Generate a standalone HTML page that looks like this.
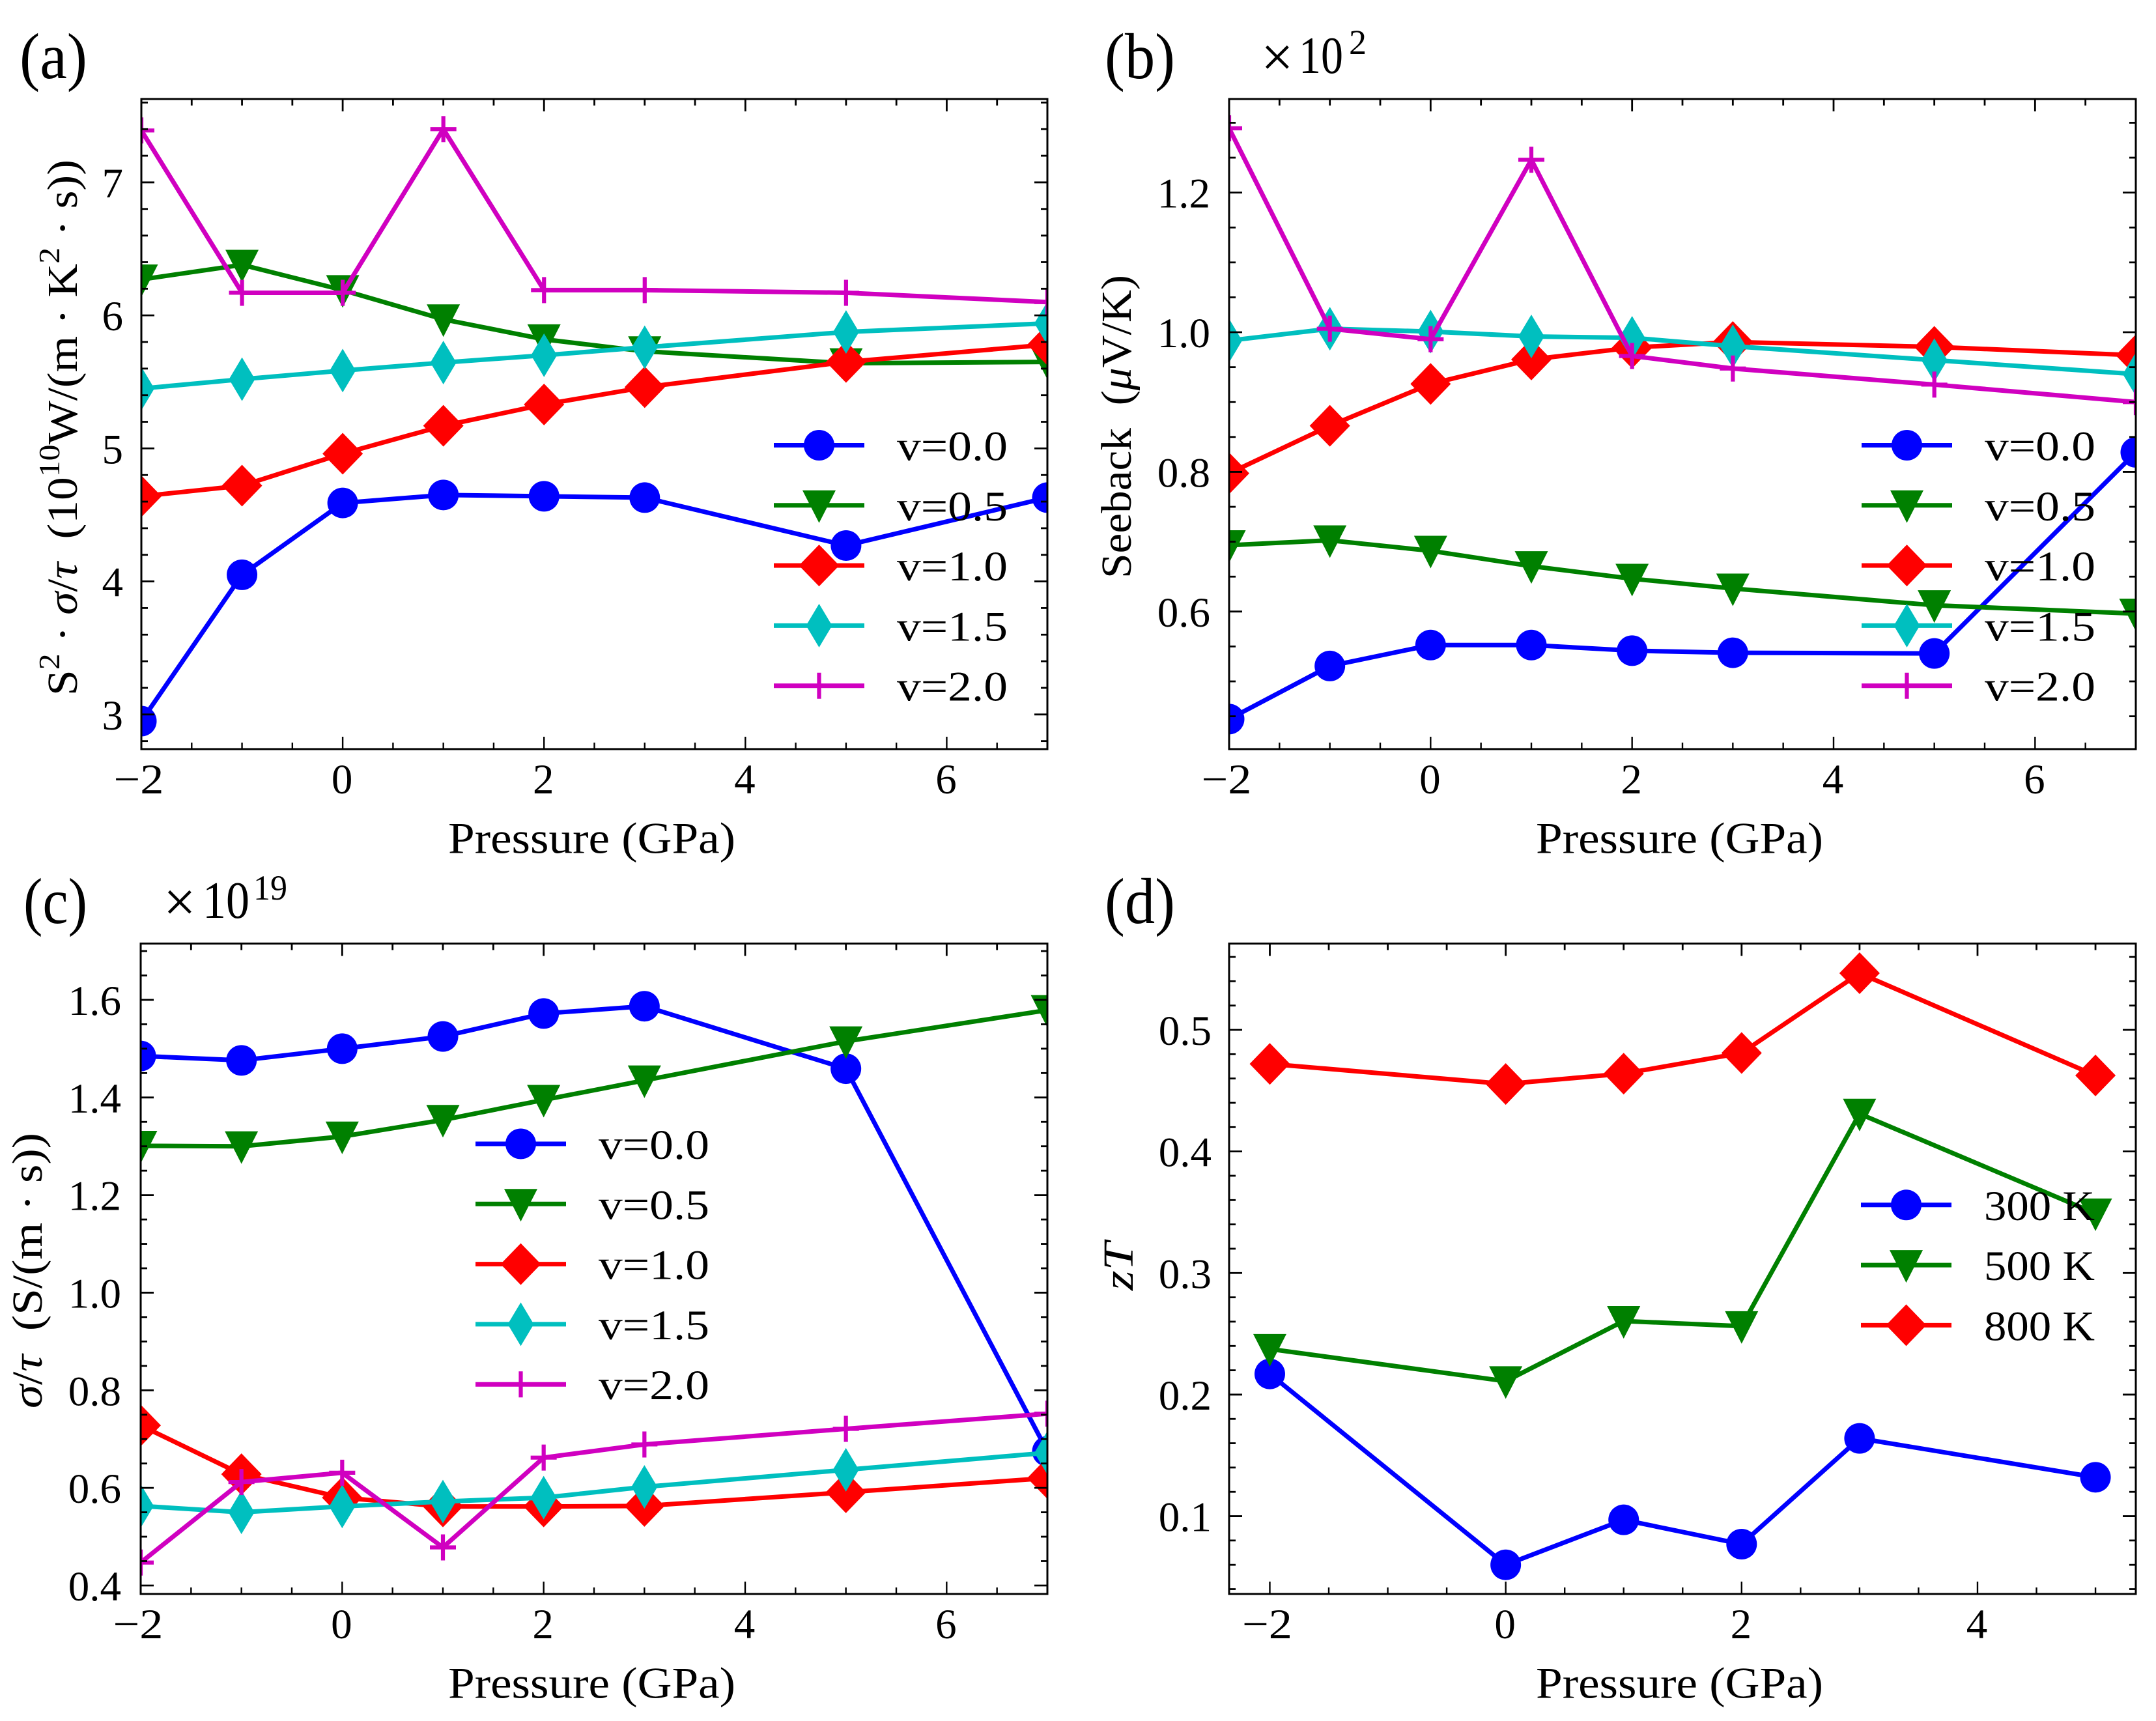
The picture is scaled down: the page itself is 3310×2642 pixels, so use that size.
<!DOCTYPE html>
<html lang="en">
<head>
<meta charset="utf-8">
<title>Thermoelectric properties versus pressure</title>
<style>
html,body{margin:0;padding:0;background:#fff;}
svg{display:block;}
text{font-family:"Liberation Serif","DejaVu Serif",serif;fill:#000;}
</style>
</head>
<body>
<svg id="figure" xmlns="http://www.w3.org/2000/svg" width="3310" height="2642" viewBox="0 0 3310 2642">
<rect x="0" y="0" width="3310" height="2642" fill="#ffffff"/>
</svg>
<script>
// ---- Data ----
const pressureGrid = [-2, -1, 0, 1, 2, 3, 5, 7];
const pressureZT = [-2, 0, 1, 2, 3, 5];
const legendLabelsV = ['v=0.0', 'v=0.5', 'v=1.0', 'v=1.5', 'v=2.0'];
const legendLabelsT = ['300 K', '500 K', '800 K'];

const powerV00 = [2.95, 4.05, 4.59, 4.65, 4.64, 4.63, 4.27, 4.63];
const powerV05 = [6.27, 6.38, 6.19, 5.97, 5.82, 5.73, 5.64, 5.65];
const powerV10 = [4.64, 4.72, 4.96, 5.17, 5.33, 5.46, 5.65, 5.78];
const powerV15 = [5.45, 5.52, 5.585, 5.645, 5.70, 5.76, 5.875, 5.94];
const powerV20 = [7.39, 6.17, 6.17, 7.40, 6.19, 6.19, 6.17, 6.10];

const seebackV00 = [0.446, 0.522, 0.552, 0.552, 0.544, 0.541, 0.540, 0.828];
const seebackV05 = [0.695, 0.702, 0.687, 0.665, 0.647, 0.633, 0.609, 0.597];
const seebackV10 = [0.798, 0.866, 0.926, 0.961, 0.978, 0.986, 0.979, 0.967];
const seebackV15 = [0.988, 1.005, 1.001, 0.994, 0.992, 0.980, 0.960, 0.940];
const seebackV20 = [1.292, 1.005, 0.990, 1.247, 0.966, 0.948, 0.925, 0.900];

const sigmaV00 = [1.485, 1.476, 1.500, 1.525, 1.572, 1.587, 1.459, 0.675];
const sigmaV05 = [1.301, 1.300, 1.320, 1.354, 1.395, 1.435, 1.515, 1.579];
const sigmaV10 = [0.728, 0.628, 0.580, 0.562, 0.562, 0.563, 0.591, 0.620];
const sigmaV15 = [0.563, 0.550, 0.562, 0.572, 0.580, 0.602, 0.637, 0.672];
const sigmaV20 = [0.447, 0.612, 0.631, 0.478, 0.662, 0.689, 0.721, 0.752];

const zt300 = [0.217, 0.060, 0.097, 0.077, 0.164, 0.132];
const zt500 = [0.2375, 0.211, 0.2605, 0.2563, 0.431, 0.349];
const zt800 = [0.472, 0.4555, 0.464, 0.481, 0.5466, 0.4625];

const xTicksWide = [-2, 0, 2, 4, 6];
const xTicksZT = [-2, 0, 2, 4];
const yTicksPower = [3, 4, 5, 6, 7];
const yTickLabelsPower = ['3', '4', '5', '6', '7'];
const yTicksSeeback = [0.6, 0.8, 1.0, 1.2];
const yTickLabelsSeeback = ['0.6', '0.8', '1.0', '1.2'];
const yTicksSigma = [0.4, 0.6, 0.8, 1.0, 1.2, 1.4, 1.6];
const yTickLabelsSigma = ['0.4', '0.6', '0.8', '1.0', '1.2', '1.4', '1.6'];
const yTicksZT = [0.1, 0.2, 0.3, 0.4, 0.5];
const yTickLabelsZT = ['0.1', '0.2', '0.3', '0.4', '0.5'];

// ---- Drawing ----
const NS = 'http://www.w3.org/2000/svg';
const root = document.getElementById('figure');
const BLUE = '#0000ff', GREEN = '#008000', RED = '#ff0000', CYAN = '#00bfbf', MAGENTA = '#d000c0';
const LW = 7;

function mk(tag, name, parent, attrs) {
  const el = document.createElementNS(NS, tag);
  
  
  for (const k in attrs) el.setAttribute(k, attrs[k]);
  parent.appendChild(el);
  return el;
}
function txt(name, parent, str, x, y, size, opts) {
  const o = opts || {};
  const attrs = {x: x, y: y, 'font-size': size};
  if (o.anchor) attrs['text-anchor'] = o.anchor;
  if (o.len) { attrs.textLength = o.len; attrs.lengthAdjust = 'spacingAndGlyphs'; }
  if (o.italic) attrs['font-style'] = 'italic';
  const t = mk('text', name, parent, attrs);
  t.textContent = str;
  return t;
}
function marker(name, parent, kind, x, y, color) {
  if (kind === 'circle') {
    mk('circle', name, parent, {cx: x, cy: y, r: 23.5, fill: color});
  } else if (kind === 'tri') {
    mk('polygon', name, parent, {points: (x-25.5)+','+(y-23)+' '+(x+25.5)+','+(y-23)+' '+x+','+(y+27), fill: color});
  } else if (kind === 'diamond') {
    mk('polygon', name, parent, {points: x+','+(y-32)+' '+(x+31)+','+y+' '+x+','+(y+32)+' '+(x-31)+','+y, fill: color});
  } else if (kind === 'thin') {
    mk('polygon', name, parent, {points: x+','+(y-33.5)+' '+(x+20)+','+y+' '+x+','+(y+33.5)+' '+(x-20)+','+y, fill: color});
  } else {
    mk('path', name, parent, {d: 'M'+(x-20)+' '+y+'H'+(x+20)+'M'+x+' '+(y-20)+'V'+(y+20), stroke: color, 'stroke-width': 6.2, fill: 'none'});
  }
}
function drawPanel(p) {
  const g = mk('g', p.id + '-panel', root, {});
  const sx = v => p.left + (v - p.xMin) / (p.xMax - p.xMin) * (p.right - p.left);
  const sy = v => p.bottom - (v - p.yMin) / (p.yMax - p.yMin) * (p.bottom - p.top);

  const clipId = p.id + '-clip';
  const defs = mk('defs', p.id + '-defs', g, {});
  const clip = mk('clipPath', p.id + '-clip-path', defs, {id: clipId});
  mk('rect', p.id + '-clip-rect', clip, {x: p.left, y: p.top, width: p.right - p.left, height: p.bottom - p.top});

  // series
  const plot = mk('g', p.id + '-plot-area', g, {'clip-path': 'url(#' + clipId + ')'});
  p.series.forEach(function (s) {
    const sg = mk('g', p.id + '-series-' + s.key, plot, {});
    const pts = s.values.map((v, i) => sx(p.xs[i]).toFixed(2) + ',' + sy(v).toFixed(2)).join(' ');
    mk('polyline', p.id + '-line-' + s.key, sg, {points: pts, fill: 'none', stroke: s.color, 'stroke-width': LW, 'stroke-linejoin': 'miter'});
    s.values.forEach(function (v, i) {
      marker(p.id + '-point-' + s.key, sg, s.kind, sx(p.xs[i]), sy(v), s.color);
    });
  });

  // ticks
  const ticks = mk('g', p.id + '-ticks', g, {});
  function tick(name, x1, y1, x2, y2, w) {
    mk('line', name, ticks, {x1: x1, y1: y1, x2: x2, y2: y2, stroke: '#000', 'stroke-width': w});
  }
  for (let k = Math.ceil(p.xMin / p.xMinor - 1e-6); k * p.xMinor <= p.xMax + 1e-6; k++) {
    const v = k * p.xMinor;
    const major = p.xTicks.some(t => Math.abs(t - v) < 1e-6);
    const len = major ? 19 : 10;
    const x = sx(v);
    tick(p.id + '-x-tick-bottom', x, p.bottom, x, p.bottom - len, 2.4);
    tick(p.id + '-x-tick-top', x, p.top, x, p.top + len, 2.8);
  }
  for (let k = Math.ceil(p.yMin / p.yMinor - 1e-6); k * p.yMinor <= p.yMax + 1e-6; k++) {
    const v = k * p.yMinor;
    const major = p.yTicks.some(t => Math.abs(t - v) < 1e-6);
    const len = major ? 20 : 10;
    const y = sy(v);
    tick(p.id + '-y-tick-left', p.left, y, p.left + len, y, 2.8);
    tick(p.id + '-y-tick-right', p.right, y, p.right - len, y, 2.8);
  }
  mk('rect', p.id + '-axes-frame', g, {x: p.left, y: p.top, width: p.right - p.left, height: p.bottom - p.top, fill: 'none', stroke: '#000', 'stroke-width': 3});

  // tick labels
  p.xTicks.forEach(function (t) {
    if (t < 0) {
      txt(p.id + '-x-tick-label', g, '\u2212' + Math.abs(t), sx(t) - 4, p.bottom + 68, 65, {anchor: 'middle', len: 77});
    } else {
      txt(p.id + '-x-tick-label', g, String(t), sx(t) - 1, p.bottom + 68, 65, {anchor: 'middle'});
    }
  });
  p.yTicks.forEach(function (t, i) {
    txt(p.id + '-y-tick-label', g, p.yLabels[i], p.yLabelRight, sy(t) + 23, 65, {anchor: 'end'});
  });

  // x-axis title
  txt(p.id + '-x-axis-title', g, 'Pressure (GPa)', p.xTitleX, p.bottom + 159.5, 68, {len: 441});

  // legend
  const lg = mk('g', p.id + '-legend', g, {});
  p.series.forEach(function (s, i) {
    const ly = p.legend.y0 + i * 92.3;
    const eg = mk('g', p.id + '-legend-entry', lg, {});
    mk('line', p.id + '-legend-line', eg, {x1: p.legend.x, x2: p.legend.x + 139, y1: ly, y2: ly, stroke: s.color, 'stroke-width': LW});
    marker(p.id + '-legend-marker', eg, s.kind, p.legend.x + 69.5, ly, s.color);
    txt(p.id + '-legend-label', eg, s.label, p.legend.x + 189, ly + 23, 65, {len: 170});
  });
  return g;
}

const vKinds = ['circle', 'tri', 'diamond', 'thin', 'plus'];
const vColors = [BLUE, GREEN, RED, CYAN, MAGENTA];
const vKeys = ['v00', 'v05', 'v10', 'v15', 'v20'];
function vSeries(arrs) {
  return arrs.map((values, i) => ({key: vKeys[i], kind: vKinds[i], color: vColors[i], label: legendLabelsV[i], values: values}));
}

const panelA = drawPanel({id: 'a', left: 217, right: 1608, top: 152, bottom: 1150,
  xMin: -2, xMax: 7, xMinor: 0.5, xTicks: xTicksWide, xs: pressureGrid,
  yMin: 2.7395, yMax: 7.6265, yMinor: 0.2, yTicks: yTicksPower, yLabels: yTickLabelsPower,
  yLabelRight: 189, xTitleX: 688, legend: {x: 1188, y0: 683.5},
  series: vSeries([powerV00, powerV05, powerV10, powerV15, powerV20])});
const panelB = drawPanel({id: 'b', left: 1887, right: 3279, top: 152, bottom: 1150,
  xMin: -2, xMax: 7, xMinor: 0.5, xTicks: xTicksWide, xs: pressureGrid,
  yMin: 0.403, yMax: 1.334, yMinor: 0.05, yTicks: yTicksSeeback, yLabels: yTickLabelsSeeback,
  yLabelRight: 1858, xTitleX: 2358, legend: {x: 2858, y0: 683.5},
  series: vSeries([seebackV00, seebackV05, seebackV10, seebackV15, seebackV20])});
const panelC = drawPanel({id: 'c', left: 216, right: 1608, top: 1448.5, bottom: 2447,
  xMin: -2, xMax: 7, xMinor: 0.5, xTicks: xTicksWide, xs: pressureGrid,
  yMin: 0.3826, yMax: 1.7154, yMinor: 0.05, yTicks: yTicksSigma, yLabels: yTickLabelsSigma,
  yLabelRight: 186, xTitleX: 688, legend: {x: 730, y0: 1756},
  series: vSeries([sigmaV00, sigmaV05, sigmaV10, sigmaV15, sigmaV20])});
const panelD = drawPanel({id: 'd', left: 1887, right: 3279, top: 1448.5, bottom: 2447,
  xMin: -2.345, xMax: 5.342, xMinor: 0.5, xTicks: xTicksZT, xs: pressureZT,
  yMin: 0.036, yMax: 0.571, yMinor: 0.02, yTicks: yTicksZT, yLabels: yTickLabelsZT,
  yLabelRight: 1860, xTitleX: 2358, legend: {x: 2857, y0: 1849.8},
  series: [
    {key: 't300', kind: 'circle', color: BLUE, label: legendLabelsT[0], values: zt300},
    {key: 't500', kind: 'tri', color: GREEN, label: legendLabelsT[1], values: zt500},
    {key: 't800', kind: 'diamond', color: RED, label: legendLabelsT[2], values: zt800}
  ]});

// ---- Panel letters, offset notes, y-axis titles ----
txt('panel-label-a', panelA, '(a)', 30, 120, 100, {len: 104});
txt('panel-label-b', panelB, '(b)', 1696, 120, 100, {len: 108});
txt('panel-label-c', panelC, '(c)', 36, 1417, 100, {len: 98});
txt('panel-label-d', panelD, '(d)', 1696, 1417, 100, {len: 108});

const offB = mk('g', 'b-axis-offset', panelB, {});
txt('b-offset-times', offB, '\u00d7', 1936, 117, 88);
txt('b-offset-base', offB, '10', 1994, 112, 80, {len: 68});
txt('b-offset-exponent', offB, '2', 2071, 83, 54, {len: 27});
const offC = mk('g', 'c-axis-offset', panelC, {});
txt('c-offset-times', offC, '\u00d7', 251, 1414, 88);
txt('c-offset-base', offC, '10', 311, 1409, 80, {len: 72});
txt('c-offset-exponent', offC, '19', 389, 1381, 54, {len: 52});

function yTitle(name, parent, x, yBottom, length, runs) {
  const t = mk('text', name, parent, {
    transform: 'translate(' + x + ',' + yBottom + ') rotate(-90)',
    x: 0, y: 0, 'font-size': 66, textLength: length, lengthAdjust: 'spacingAndGlyphs'
  });
  let lift = 0;
  runs.forEach(function (r) {
    const sp = document.createElementNS(NS, 'tspan');
    const want = r.sup ? -27 : 0;
    sp.setAttribute('dy', want - lift);
    lift = want;
    if (r.sup) sp.setAttribute('font-size', 46);
    if (r.it) sp.setAttribute('font-style', 'italic');
    sp.textContent = r.s;
    t.appendChild(sp);
  });
}
yTitle('a-y-axis-title', panelA, 118, 1068, 823, [
  {s: 'S'}, {s: '2', sup: 1}, {s: ' \u00b7 '}, {s: '\u03c3', it: 1}, {s: '/'}, {s: '\u03c4', it: 1},
  {s: '\u2002(10'}, {s: '10', sup: 1}, {s: 'W/(m \u00b7 K'}, {s: '2', sup: 1}, {s: ' \u00b7 s))'}
]);
yTitle('b-y-axis-title', panelB, 1736, 888, 466, [
  {s: 'Seeback\u2002('}, {s: '\u03bc', it: 1}, {s: 'V/K)'}
]);
yTitle('c-y-axis-title', panelC, 64, 2162, 423, [
  {s: '\u03c3', it: 1}, {s: '/'}, {s: '\u03c4', it: 1}, {s: '\u2002(S/(m \u00b7 s))'}
]);
yTitle('d-y-axis-title', panelD, 1739, 1981, 74, [
  {s: 'zT', it: 1}
]);
</script>
</body>
</html>
